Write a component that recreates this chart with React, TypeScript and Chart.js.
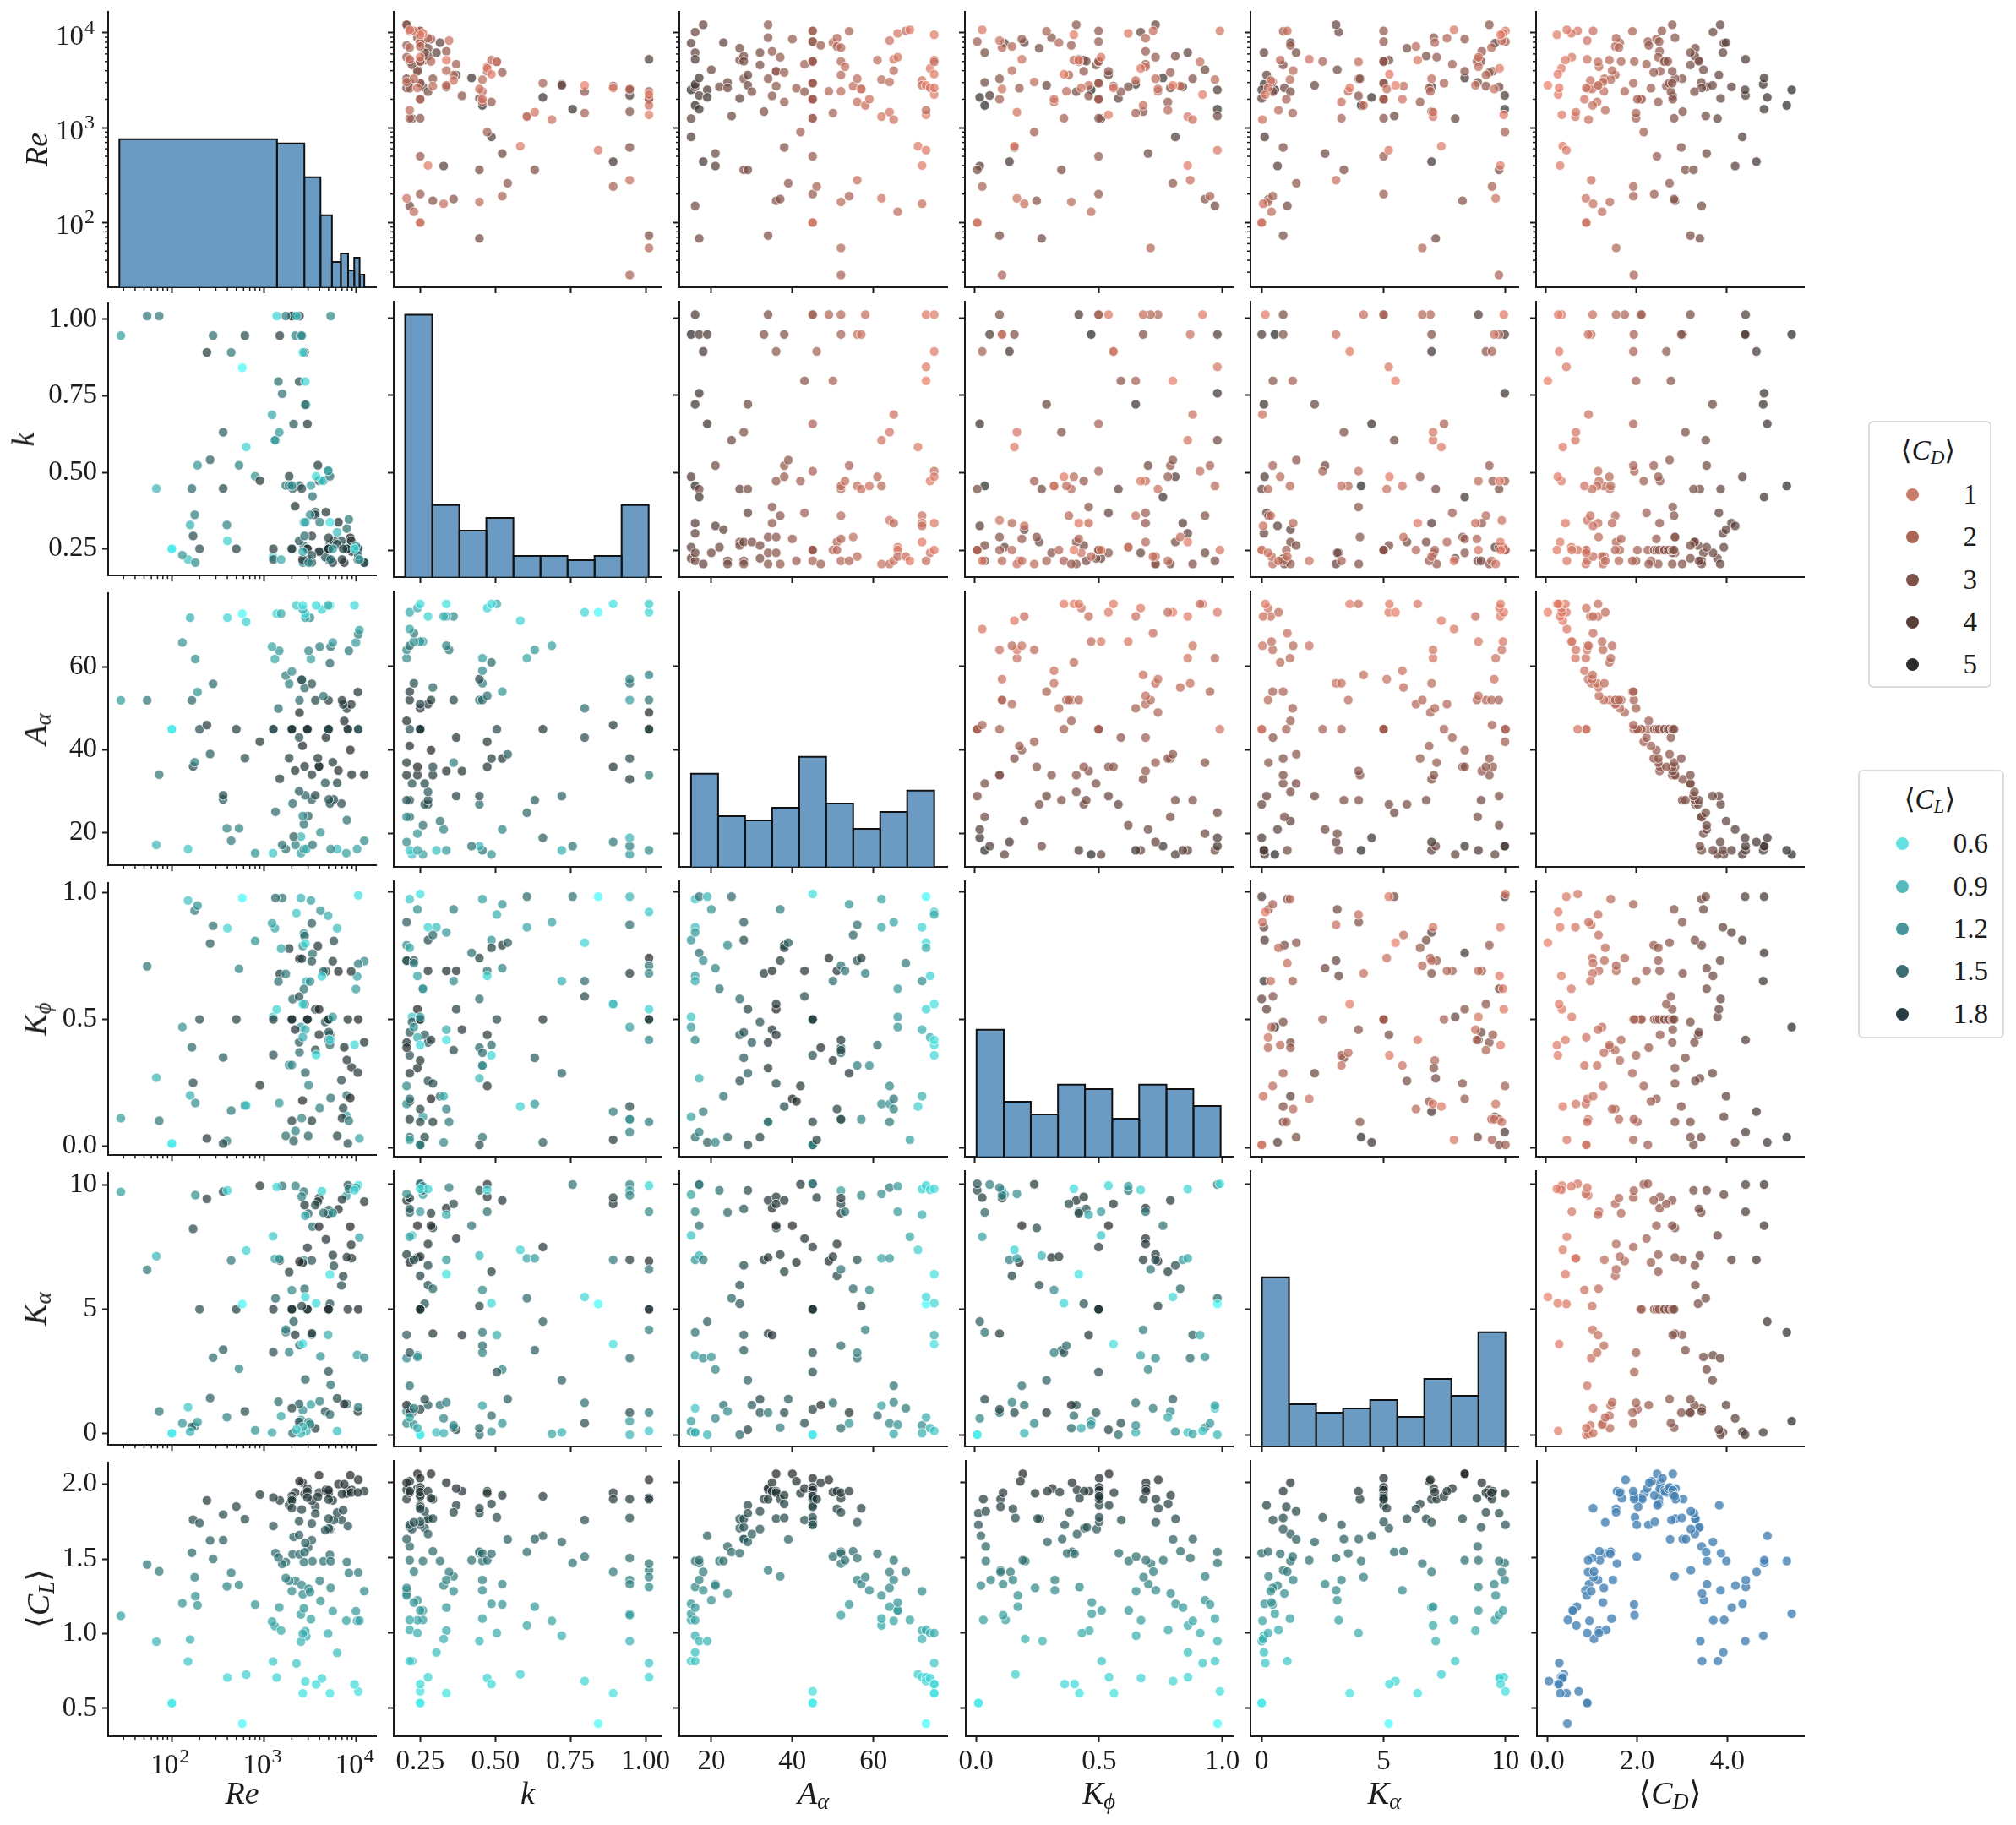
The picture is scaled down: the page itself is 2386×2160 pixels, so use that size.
import { useEffect, useRef } from 'react';
import { Chart, registerables } from 'chart.js';

Chart.register(...registerables);

// Samples grouped by A_alpha.
const aAlpha = [
  15, 15, 15, 15,
  16, 16, 16, 16, 16, 16, 16,
  17, 17, 17, 17,
  18, 18, 19, 19, 20, 21, 21, 22, 23, 24, 24, 25,
  27, 27, 27, 28, 28, 28, 28, 29, 29, 29, 30, 32, 32, 33,
  34, 34, 34, 34, 35, 35, 36, 36, 36, 36, 37, 37, 38, 38, 38, 39, 40, 41, 42, 43, 43,
  45, 45, 45, 45, 45, 45, 45, 45, 45, 45, 45, 45, 45, 45, 45, 45, 45, 45, 45, 45, 45,
  46, 47, 49, 50, 50, 51, 51, 52, 52, 52, 52, 52, 52, 52, 53, 54, 54, 55,
  56, 56, 56, 57, 57, 58, 59, 61, 62, 62, 62, 64, 64, 64, 65, 65, 65, 66, 66, 66, 68,
  69, 71, 72, 72, 72, 72, 73, 73, 73, 73, 74, 74, 75, 75, 75, 75, 75, 75,
];
const k = [
  0.259, 0.223, 0.947, 0.487,
  0.215, 0.241, 0.304, 0.337, 1.011, 0.721, 0.457,
  0.447, 0.947, 0.757, 0.421,
  0.205, 0.892, 0.947, 0.658, 0.241, 0.523, 0.328, 0.259, 0.316, 0.215, 0.205, 0.605,
  0.276, 0.265, 0.447, 0.276, 0.215, 0.205, 0.631, 0.37, 0.721, 0.447, 0.276, 0.265, 0.223, 0.947,
  0.205, 0.241, 0.292, 1.011, 0.337, 0.389, 0.292, 0.241, 0.473, 0.892, 0.205, 0.361, 0.947, 0.523, 0.487, 0.541, 0.286, 0.215, 0.473, 0.37, 0.797,
  0.25, 0.25, 0.25, 0.25, 0.25, 0.25, 0.25, 0.25, 0.25, 0.25, 0.25, 0.25, 0.25, 0.25, 0.25, 1.011, 1.011, 0.658, 0.505, 0.215, 0.25,
  0.892, 0.205, 1.011, 0.25, 0.797, 0.276, 0.25, 0.947, 1.011, 0.447, 0.457, 0.361, 0.286, 0.215, 0.473, 0.215, 0.523, 0.292,
  0.947, 0.457, 0.229, 0.947, 0.447, 1.011, 0.457, 0.487, 0.605, 0.205, 0.457, 0.346, 0.631, 0.205, 0.215, 0.337, 0.688, 0.259, 0.25, 0.229, 0.229,
  0.215, 0.583, 0.276, 0.361, 0.337, 0.328, 0.842, 1.011, 0.797, 0.215, 0.473, 0.241, 0.25, 0.337, 1.011, 0.892, 0.505, 0.487,
];
const re = [
  7800, 1250, 2510, 800,
  150, 10200, 6200, 2700, 5270, 2870, 1720,
  68, 2190, 1570, 3350,
  12200, 440, 2510, 2090, 4090, 535, 395, 2700, 7900, 3010, 2630, 1330,
  6900, 5170, 2040, 5700, 5030, 3290, 360, 3600, 2800, 360, 2400, 6200, 4600, 1480,
  12200, 8900, 3290, 73, 6400, 2170, 170, 3940, 3940, 2750, 5550, 177, 620, 3830, 1870, 260, 8600, 2610, 900, 4680, 2400,
  100, 100, 10500, 8100, 200, 500, 10500, 8100, 5000, 5000, 5000, 2950, 2950, 2000, 1260, 2000, 2000, 2950, 5000, 1260, 2000,
  240, 7400, 2420, 7900, 1430, 8800, 7200, 28, 54, 165, 2420, 3600, 5000, 7000, 4400, 10400, 190, 2750,
  280, 1870, 3290, 2560, 2560, 1720, 2000, 5170, 1310, 180, 3220, 8300, 1460, 3040, 5270, 4010, 1220, 9900, 5550, 130, 10500,
  10800, 640, 400, 3150, 2800, 158, 580, 1370, 2800, 1530, 4230, 2630, 9560, 5170, 2240, 2630, 4950, 3670,
];
const kPhi = [
  0.12, 0.51, 0.47, 0.81,
  0.97, 0.67, 0.86, 0.84, 0.42, 0.65, 0.04,
  0.27, 0.06, 0.98, 0.76,
  0.73, 0.14, 0.98, 0.02, 0.93, 0.7, 0.02, 0.62, 0.2, 0.04, 0.79, 0.98,
  0.26, 0.44, 0.58, 0.81, 0.45, 0.88, 0.35, 0.54, 0.29, 0.01, 0.41, 0.04, 0.49, 0.68,
  0.41, 0.31, 0.1, 0.1, 0.69, 0.46, 0.25, 0.54, 0.44, 0.56, 0.73, 0.93, 0.16, 0.79, 0.78, 0.8, 0.19, 0.18, 0.24, 0.69, 0.59,
  0.01, 0.01, 0.99, 0.01, 0.5, 0.5, 0.5, 0.5, 0.5, 0.5, 0.5, 0.5, 0.5, 0.5, 0.5, 0.5, 0.5, 0.5, 0.5, 0.36, 0.1,
  0.03, 0.39, 0.74, 0.34, 0.65, 0.69, 0.15, 0.11, 0.71, 0.39, 0.37, 0.38, 0.42, 0.11, 0.69, 0.29, 0.95, 0.83,
  0.87, 0.32, 0.73, 0.11, 0.74, 0.68, 0.32, 0.4, 0.86, 0.17, 0.97, 0.1, 0.17, 0.24, 0.19, 0.15, 0.88, 0.62, 0.51, 0.47, 0.72,
  0.03, 0.16, 0.86, 0.65, 0.46, 0.2, 0.98, 0.54, 0.8, 0.78, 0.67, 0.43, 0.4, 0.42, 0.92, 0.56, 0.91, 0.36,
];
const kAlpha = [
  9.57, 7.94, 0.54, 0.12,
  1.05, 3.16, 0.09, 6.97, 8.89, 0.09, 4.08,
  7.14, 9.97, 9.97, 8.33,
  3.05, 6.97, 0, 4.51, 3.1, 2.6, 0.65, 9.74, 1.18, 8.86, 0.93, 5.44,
  5.96, 5.22, 0, 6.75, 9, 3.98, 3.37, 0.2, 2.17, 9.74, 1.18, 1.41, 0.88, 6.97,
  9.34, 7.06, 4.03, 0.88, 9.03, 3.97, 8.24, 8.33, 9.48, 9.2, 7.18, 0.28, 0.88, 9.34, 6.5, 1.42, 8.33, 6.87, 9.98, 7.82, 0.46,
  0, 0, 10, 10, 5, 5, 5, 5, 5, 5, 5, 5, 5, 5, 5, 5, 5, 7.48, 2.5, 3.27, 1.01,
  9.45, 1.18, 6.92, 7.1, 1.27, 7.6, 6.33, 9.73, 6.59, 0.26, 3.55, 9.2, 8.83, 9.43, 8.89, 0.88, 0.45, 5.82,
  3.05, 3.27, 6.97, 9.54, 5.13, 4.18, 5.77, 0.76, 7.03, 9.6, 1.16, 9.85, 7.03, 0.45, 1.95, 1.29, 0.03, 9.9, 8.89, 0.4, 1.05,
  7.89, 7.37, 9.79, 0.37, 8.77, 0.06, 5.21, 9.93, 5.49, 0.69, 9.76, 0.26, 9.8, 6.4, 0.15, 3.61, 3.97, 5.24,
];
const cd = [
  3.93, 3.79, 5.43, 4.34,
  3.44, 3.69, 3.91, 4.1, 4.41, 4.8, 5.32,
  3.4, 4.41, 4.82, 4.82,
  3.85, 4.65, 4.4, 4.89, 3.48, 3.55, 4.18, 3.55, 3.98, 3.43, 3.44, 3.53,
  3.3, 3.36, 3.86, 3.29, 3.38, 3.01, 3.08, 3.82, 3.68, 3.26, 3.28, 3.19, 3.19, 3.02,
  2.79, 2.85, 2.85, 3.19, 2.51, 2.8, 2.85, 2.79, 2.52, 2.66, 2.48, 2.83, 2.99, 2.38, 2.48, 2.73, 2.44, 2.32, 2.16, 2.22, 2.76,
  0.89, 0.89, 0.7, 2.25, 2.39, 2.45, 2.56, 2.5, 2.6, 2.62, 2.69, 2.72, 2.79, 2.8, 2.83, 2.09, 2.11, 1.93, 1.95, 1.99, 2.02,
  1.93, 2.27, 1.74, 1.63, 1.99, 1.55, 1.53, 1.94, 1.55, 1.41, 1.28, 1.53, 1.66, 1.61, 1.17, 1.91, 1.93, 1.16,
  1, 1.13, 1.29, 0.93, 1.02, 1.03, 0.85, 1.4, 0.65, 0.88, 1.43, 0.91, 0.66, 1.26, 0.91, 1.46, 0.94, 0.56, 0.57, 1.24, 1.04,
  0.46, 0.37, 0.31, 0.98, 1.15, 1.04, 0.45, 0.35, 0.04, 1.31, 0.34, 0.89, 0.24, 0.43, 0.27, 0.29, 1.15, 0.26,
];
const cl = [
  1.087, 0.813, 1.128, 1.194,
  0.813, 1.085, 0.871, 1.169, 1.306, 0.982, 1.479,
  0.946, 1.353, 1.466, 1.484,
  1.284, 1.407, 0.946, 1.647, 1.218, 1.325, 1.316, 1.479, 1.479, 1.576, 1.263, 1.539,
  1.76, 1.698, 1.531, 1.76, 1.704, 1.625, 1.625, 1.85, 1.606, 1.797, 1.659, 1.81, 1.692, 1.891,
  1.953, 1.962, 1.89, 1.417, 2, 1.944, 1.762, 2.06, 1.944, 1.934, 1.891, 1.377, 1.766, 1.916, 1.859, 1.623, 2.06, 2.01, 1.93, 1.962, 1.752,
  0.534, 0.534, 0.612, 1.72, 1.74, 1.85, 2.03, 1.96, 1.95, 1.94, 1.96, 1.97, 1.95, 1.92, 1.91, 1.9, 1.89, 1.91, 1.77, 1.72, 1.84,
  1.891, 2, 2.02, 1.938, 1.509, 1.944, 1.826, 1.119, 1.462, 1.541, 1.53, 1.803, 1.897, 1.934, 1.484, 1.944, 1.19, 1.544,
  1.499, 1.353, 1.737, 1.325, 1.83, 1.372, 1.284, 1.527, 1.05, 1.25, 1.096, 1.406, 1.175, 1.3, 1.484, 1.353, 1.081, 1.15, 1.15, 1.203, 1.409,
  1.087, 0.725, 0.706, 1.278, 1.016, 0.96, 0.397, 0.706, 0.68, 1.02, 0.7, 1, 0.66, 0.6, 0.8, 0.6, 1, 0.66,
];

// Histogram bins on the diagonal
const reEdges = [27, 1380, 2732, 4085, 5437, 6790, 8143, 9495, 10848, 12200];
const reCounts = [35, 34, 26, 17, 6, 8, 4, 7, 3];
const kEdges = [0.2, 0.29, 0.38, 0.47, 0.56, 0.65, 0.74, 0.83, 0.92, 1.01];
const kCounts = [62, 17, 11, 14, 5, 5, 4, 5, 17];
const aEdges = [15, 21.67, 28.33, 35, 41.67, 48.33, 55, 61.67, 68.33, 75];
const aCounts = [22, 12, 11, 14, 26, 15, 9, 13, 18];
const phiEdges = [0.007, 0.117, 0.226, 0.336, 0.445, 0.555, 0.664, 0.774, 0.883, 0.993];
const phiCounts = [30, 13, 10, 17, 16, 9, 17, 16, 12];
const kaEdges = [0.01, 1.12, 2.23, 3.34, 4.45, 5.56, 6.67, 7.78, 8.89, 10];
const kaCounts = [40, 10, 8, 9, 11, 7, 16, 12, 27];

// Tick labels
const reTicks = [100, 1000, 10000];
const reMinorTicks = [
  30, 40, 50, 60, 70, 80, 90, 200, 300, 400, 500, 600, 700, 800, 900,
  2000, 3000, 4000, 5000, 6000, 7000, 8000, 9000,
];
const kTicks = [0.25, 0.5, 0.75, 1];
const aTicks = [20, 40, 60];
const phiTicks = [0, 0.5, 1];
const kaTicks = [0, 5, 10];
const cdTicks = [0, 2, 4];
const clTicks = [0.5, 1, 1.5, 2];

const cdLegend = ['1', '2', '3', '4', '5'];
const clLegend = ['0.6', '0.9', '1.2', '1.5', '1.8'];

const INK = '#1c1c1c';
const SERIF = '"Liberation Serif", "DejaVu Serif", serif';
const PANEL_W = 317;
const PANEL_H = 326;
const COL_X = [128, 466, 804, 1142, 1480, 1818];
const ROW_Y = [14, 357, 700, 1043, 1386, 1729];
const PAD_RIGHT = 40;

type Axis = {
  values: number[];
  ticks: number[];
  digits: number;
  log?: boolean;
  min: number;
  max: number;
};

const xAxes: Axis[] = [
  { values: re, ticks: reTicks, digits: 0, log: true, min: 20.4, max: 16340 },
  { values: k, ticks: kTicks, digits: 2, min: 0.162, max: 1.053 },
  { values: aAlpha, ticks: aTicks, digits: 0, min: 12.1, max: 78.2 },
  { values: kPhi, ticks: phiTicks, digits: 1, min: -0.04, max: 1.042 },
  { values: kAlpha, ticks: kaTicks, digits: 0, min: -0.46, max: 10.53 },
  { values: cd, ticks: cdTicks, digits: 1, min: -0.22, max: 5.7 },
];
const yAxes: Axis[] = [
  { values: re, ticks: reTicks, digits: 0, log: true, min: 20.8, max: 16700 },
  { values: k, ticks: kTicks, digits: 2, min: 0.1626, max: 1.053 },
  { values: aAlpha, ticks: aTicks, digits: 0, min: 12.04, max: 78 },
  { values: kPhi, ticks: phiTicks, digits: 1, min: -0.036, max: 1.04 },
  { values: kAlpha, ticks: kaTicks, digits: 0, min: -0.47, max: 10.51 },
  { values: cl, ticks: clTicks, digits: 1, min: 0.3125, max: 2.146 },
];
const hists = [
  { edges: reEdges, counts: reCounts },
  { edges: kEdges, counts: kCounts },
  { edges: aEdges, counts: aCounts },
  { edges: phiEdges, counts: phiCounts },
  { edges: kaEdges, counts: kaCounts },
];

function mix(lo: number[], hi: number[], t: number, alpha: number) {
  const c = lo.map((l, i) => Math.round(l + (hi[i] - l) * t));
  return `rgba(${c[0]},${c[1]},${c[2]},${alpha})`;
}

function cdColor(v: number) {
  return mix([233, 127, 105], [42, 42, 42], (v - 0.04) / 5.39, 0.72);
}

function clColor(v: number) {
  return mix([70, 250, 250], [34, 38, 40], (v - 0.397) / 1.663, 0.72);
}

// Log axes: short minor ticks and 10^n labels with a proper exponent size,
// the library has one tick length per axis and no superscript.
function logAxisPlugin(row: number, col: number) {
  return {
    id: 'logAxis',
    afterDraw(chart: any) {
      const { ctx, chartArea, scales } = chart;
      ctx.save();
      ctx.strokeStyle = INK;
      ctx.fillStyle = INK;
      ctx.lineWidth = 1.5;
      if (scales.x.type === 'logarithmic') {
        reMinorTicks.forEach((v) => {
          const p = scales.x.getPixelForValue(v);
          ctx.beginPath();
          ctx.moveTo(p, chartArea.bottom);
          ctx.lineTo(p, chartArea.bottom + 4);
          ctx.stroke();
        });
        if (row === 5) {
          reTicks.forEach((v) => {
            const p = scales.x.getPixelForValue(v);
            ctx.textBaseline = 'alphabetic';
            ctx.textAlign = 'right';
            ctx.font = `33px ${SERIF}`;
            ctx.fillText('10', p + 8, chartArea.bottom + 44);
            ctx.textAlign = 'left';
            ctx.font = `24px ${SERIF}`;
            ctx.fillText(String(Math.round(Math.log10(v))), p + 9, chartArea.bottom + 31);
          });
        }
      }
      if (scales.y.type === 'logarithmic') {
        reMinorTicks.forEach((v) => {
          const p = scales.y.getPixelForValue(v);
          ctx.beginPath();
          ctx.moveTo(chartArea.left, p);
          ctx.lineTo(chartArea.left - 4, p);
          ctx.stroke();
        });
        if (col === 0) {
          reTicks.forEach((v) => {
            const p = scales.y.getPixelForValue(v);
            ctx.textBaseline = 'alphabetic';
            ctx.textAlign = 'right';
            ctx.font = `33px ${SERIF}`;
            ctx.fillText('10', chartArea.left - 29, p + 14);
            ctx.textAlign = 'left';
            ctx.font = `24px ${SERIF}`;
            ctx.fillText(String(Math.round(Math.log10(v))), chartArea.left - 28, p + 1);
          });
        }
      }
      ctx.restore();
    },
  };
}

function scaleOptions(axis: Axis, showLabels: boolean, size: number, isX: boolean) {
  return {
    type: axis.log ? 'logarithmic' : 'linear',
    min: axis.min,
    max: axis.max,
    border: { display: true, color: INK, width: 2 },
    grid: { display: true, drawOnChartArea: false, drawTicks: true, tickLength: 7, tickWidth: 2, tickColor: INK },
    afterBuildTicks: (s: any) => {
      s.ticks = axis.ticks.map((value) => ({ value }));
      // keep the read-off limits, the generated ticks would widen them
      s.min = axis.min;
      s.max = axis.max;
    },
    afterFit: (s: any) => {
      if (isX) s.height = size;
      else s.width = size;
    },
    ticks: {
      display: showLabels && !axis.log,
      autoSkip: false,
      maxRotation: 0,
      minRotation: 0,
      padding: isX ? 4 : 6,
      color: INK,
      font: { family: SERIF, size: 33 },
      callback: (v: number) => Number(v).toFixed(axis.digits),
    },
  };
}

function Panel({ row, col }: { row: number; col: number }) {
  const ref = useRef<HTMLCanvasElement>(null);
  // room for half a tick label above and below, or the layout shrinks the plot area
  const top = row === 0 ? 14 : 24;
  const left = col === 0 ? COL_X[0] : 12;
  const bottom = row === 5 ? 105 : 24;

  useEffect(() => {
    if (!ref.current) return;
    const xa = xAxes[col];
    const ya = yAxes[row];
    let datasets: any[];
    if (row === col && row < 5) {
      const { edges, counts } = hists[row];
      datasets = counts.map((c, i) => ({
        data: [
          { x: edges[i], y: 0 },
          { x: edges[i], y: c },
          { x: edges[i + 1], y: c },
          { x: edges[i + 1], y: 0 },
        ],
        yAxisID: 'yh',
        showLine: true,
        fill: 'origin',
        backgroundColor: 'rgba(70,130,180,0.8)',
        borderColor: '#111111',
        borderWidth: 2,
        pointRadius: 0,
        tension: 0,
      }));
    } else {
      const colors = row === 5 && col === 5
        ? cd.map(() => 'rgba(70,130,180,0.8)')
        : col > row
          ? cd.map(cdColor)
          : cl.map(clColor);
      datasets = [{
        data: xa.values.map((x, i) => ({ x, y: ya.values[i] })),
        pointRadius: 5.6,
        pointBorderWidth: 1,
        pointBackgroundColor: colors,
        pointBorderColor: 'rgba(255,255,255,0.75)',
        clip: false,
      }];
    }
    const chart = new Chart(ref.current, {
      type: 'scatter',
      data: { datasets },
      options: {
        animation: false,
        responsive: false,
        devicePixelRatio: 1,
        layout: { padding: { top, right: PAD_RIGHT, left: 0, bottom: 0 } },
        plugins: { legend: { display: false }, tooltip: { enabled: false } },
        scales: {
          x: scaleOptions(xa, row === 5, bottom, true),
          y: scaleOptions(ya, col === 0, left, false),
          yh: { display: false, min: 0, max: 65.1 },
        },
      } as any,
      plugins: [logAxisPlugin(row, col)],
    });
    return () => chart.destroy();
  }, [row, col, top, left, bottom]);

  return (
    <canvas
      ref={ref}
      width={left + PANEL_W + PAD_RIGHT}
      height={top + PANEL_H + bottom}
      style={{ position: 'absolute', left: COL_X[col] - left, top: ROW_Y[row] - top }}
    />
  );
}

const mathStyle = { fontFamily: SERIF, fontSize: 38, color: INK, lineHeight: 1, whiteSpace: 'nowrap' } as const;
const subStyle = { fontSize: '70%', verticalAlign: '-0.22em', lineHeight: 0 } as const;

function Sym({ base, sub }: { base: string; sub?: string }) {
  return <i>{base}{sub ? <span style={subStyle}>{sub}</span> : null}</i>;
}

function Bracket({ sub }: { sub: string }) {
  return <span>{'\u27e8'}<Sym base="C" sub={sub} />{'\u27e9'}</span>;
}

const xLabels = [
  <Sym base="Re" />, <Sym base="k" />, <Sym base="A" sub={'\u03b1'} />,
  <Sym base="K" sub={'\u03d5'} />, <Sym base="K" sub={'\u03b1'} />, <Bracket sub="D" />,
];
const yLabels = [
  <Sym base="Re" />, <Sym base="k" />, <Sym base="A" sub={'\u03b1'} />,
  <Sym base="K" sub={'\u03d5'} />, <Sym base="K" sub={'\u03b1'} />, <Bracket sub="L" />,
];
const yLabelX = [43, 27, 41, 41, 41, 45];

function Legend({ box, title, labels, colors, markerX, labelRight, titleX, rowsY, titleY }: any) {
  return (
    <div style={{ position: 'absolute', boxSizing: 'border-box', border: '2px solid #dcdcdc', borderRadius: 6, background: '#fff', ...box }}>
      <div style={{ ...mathStyle, fontSize: 33, position: 'absolute', left: titleX - box.left, top: titleY - box.top, transform: 'translate(-50%,-50%)' }}>{title}</div>
      {labels.map((t: string, i: number) => (
        <div key={t}>
          <div style={{ position: 'absolute', left: markerX - box.left - 7.5, top: rowsY[i] - box.top - 7.5, width: 15, height: 15, borderRadius: '50%', background: colors[i] }} />
          <div style={{ ...mathStyle, fontSize: 33, position: 'absolute', right: box.left + box.width - labelRight, top: rowsY[i] - box.top, transform: 'translateY(-50%)' }}>{t}</div>
        </div>
      ))}
    </div>
  );
}

export default function App() {
  const cells: [number, number][] = [];
  ROW_Y.forEach((_, r) => COL_X.forEach((_, c) => cells.push([r, c])));
  return (
    <div style={{ position: 'absolute', left: 0, top: 0, width: 2386, height: 2160, background: '#fff', overflow: 'hidden' }}>
      {cells.map(([r, c]) => <Panel key={`${r}-${c}`} row={r} col={c} />)}
      {xLabels.map((l, c) => (
        <div key={c} style={{ ...mathStyle, position: 'absolute', left: COL_X[c] + PANEL_W / 2, top: 2122, transform: 'translate(-50%,-50%)' }}>{l}</div>
      ))}
      {yLabels.map((l, r) => (
        <div key={r} style={{ ...mathStyle, position: 'absolute', left: yLabelX[r], top: ROW_Y[r] + PANEL_H / 2, transform: 'translate(-50%,-50%) rotate(-90deg)' }}>{l}</div>
      ))}
      <Legend
        box={{ left: 2211, top: 498, width: 146, height: 316 }}
        title={<Bracket sub="D" />}
        labels={cdLegend}
        colors={['#c87d6c', '#ac6455', '#7f534b', '#5a3e3a', '#2d2d2f']}
        markerX={2261}
        labelRight={2342}
        titleX={2280}
        titleY={531}
        rowsY={[583, 633, 684, 734, 784]}
      />
      <Legend
        box={{ left: 2199, top: 911, width: 173, height: 318 }}
        title={<Bracket sub="L" />}
        labels={clLegend}
        colors={['#64e1e1', '#55b9be', '#46969b', '#3c6e73', '#283c46']}
        markerX={2249}
        labelRight={2355}
        titleX={2282}
        titleY={944}
        rowsY={[996, 1047, 1097, 1147, 1198]}
      />
    </div>
  );
}
